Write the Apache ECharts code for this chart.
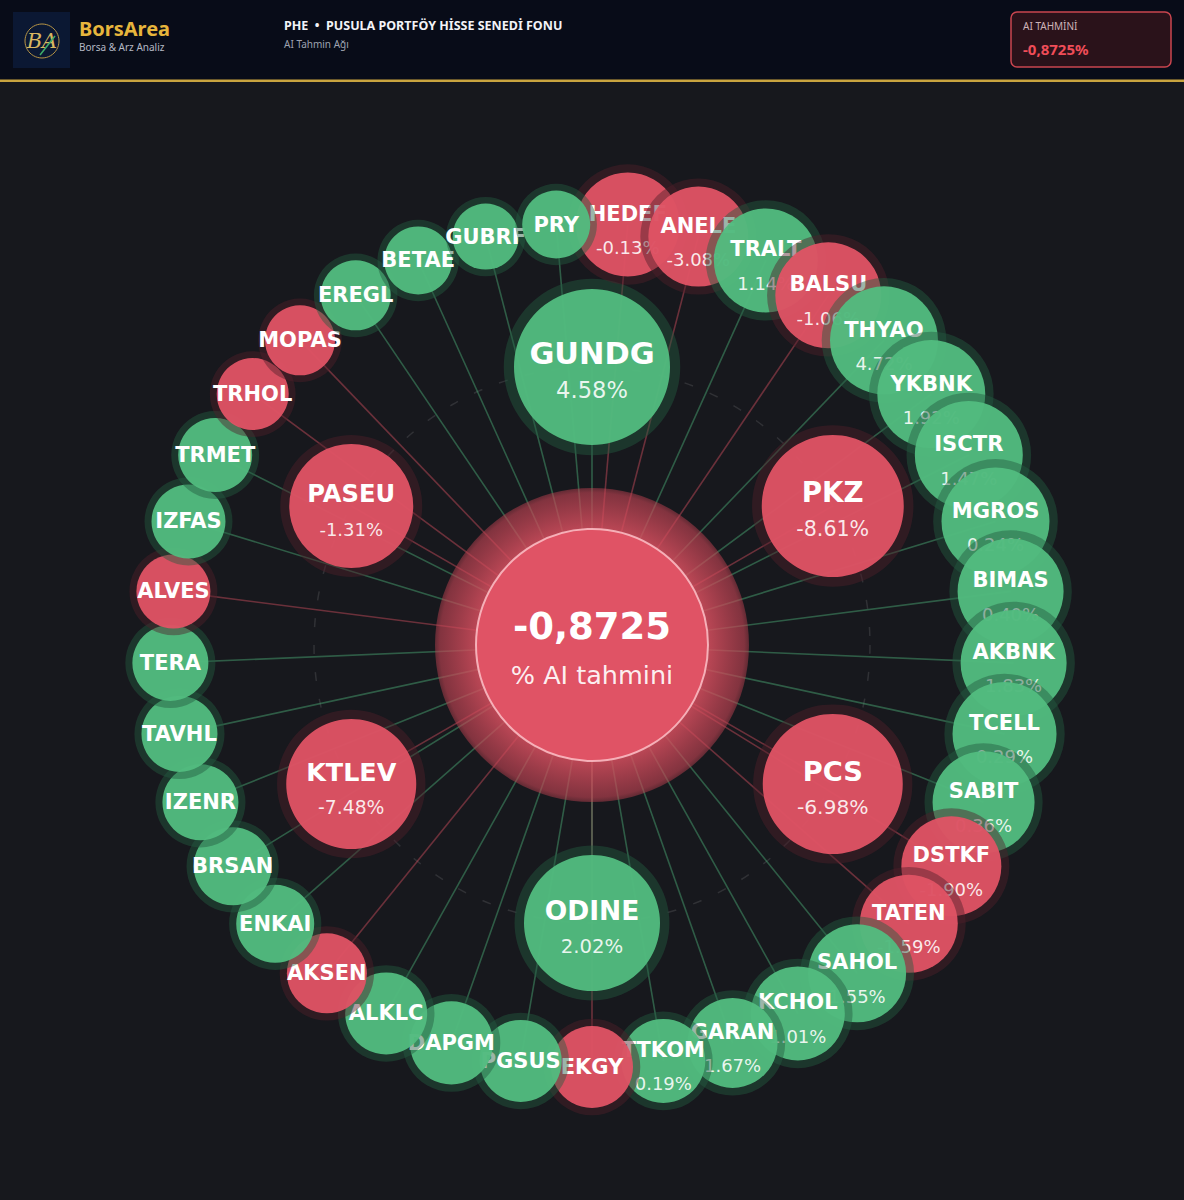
<!DOCTYPE html>
<html>
<head>
<meta charset="utf-8">
<style>
  html, body { margin: 0; padding: 0; background: #17181d; }
  #chart { width: 1184px; height: 1200px; }
</style>
<script src="https://cdn.jsdelivr.net/npm/echarts@6/dist/echarts.min.js"></script>
</head>
<body>
<div id="chart"></div>
<script>
// ---------------- DATA ----------------
const fundCode = 'PHE';
const fundName = 'PUSULA PORTFÖY HİSSE SENEDİ FONU';
const fundForecast = -0.8725;

// inner ring (largest holdings)
const innerNames   = ['GUNDG', 'PKZ', 'PCS', 'ODINE', 'KTLEV', 'PASEU'];
const innerChanges = [4.58, -8.61, -6.98, 2.02, -7.48, -1.31];
const innerWeights = [12.0, 10.25, 10.0, 9.5, 8.75, 8.0];

// outer ring, clockwise from the top
const outerNames = ['HEDEF','ANELE','TRALT','BALSU','THYAO','YKBNK','ISCTR','MGROS','BIMAS','AKBNK',
  'TCELL','SABIT','DSTKF','TATEN','SAHOL','KCHOL','GARAN','TTKOM','EKGY','PGSUS','DAPGM','ALKLC',
  'AKSEN','ENKAI','BRSAN','IZENR','TAVHL','TERA','ALVES','IZFAS','TRMET','TRHOL','MOPAS','EREGL',
  'BETAE','GUBRF','PRY'];
const outerChanges = [-0.13,-3.08,1.14,-1.06,4.72,1.92,1.47,0.24,0.40,1.83,
  0.29,0.36,-1.90,-1.59,1.55,1.01,1.67,0.19,-0.85,0.62,1.25,0.48,
  -0.72,0.91,1.36,0.55,0.83,2.14,-1.47,0.66,1.05,-0.94,-2.31,0.77,
  0.42,1.18,0.35];
const outerWeights = [5.5,5.0,5.5,5.75,6.0,6.0,6.0,6.0,5.75,5.75,
  5.5,5.25,5.0,4.75,4.75,4.25,3.75,3.0,2.75,2.75,2.9,2.75,
  2.5,2.25,2.25,2.0,2.0,2.0,1.75,1.75,1.75,1.5,1.25,1.25,
  1.0,0.75,1.0];

// ---------------- STYLE ----------------
const GREEN = '#52bd80';
const RED = '#e05365';
const GREEN_HALO = 'rgba(35,90,65,0.45)';
const RED_HALO = 'rgba(80,30,42,0.45)';
const GREEN_LINK = 'rgba(82,189,128,0.42)';
const RED_LINK = 'rgba(224,83,101,0.42)';
const NODE_FONT = '"DejaVu Sans", sans-serif';
const UI_FONT = '"Noto Sans", sans-serif';
const CX = 592, CY = 645;

function radiusOf(w) { return 30 + 4 * w; }
function fmtPct(v) { return v.toFixed(2) + '%'; }

function nodeRenderer(names, changes, weights) {
  return function (params, api) {
    const i = params.dataIndex;
    const p = api.coord([api.value(0), api.value(1)]);
    const r = radiusOf(weights[i]);
    const up = changes[i] >= 0;
    const nameF = Math.max(21, 0.39 * r);
    const pctF = Math.max(18, 0.29 * r);
    const showPct = weights[i] >= 3;
    const nameDy = showPct ? -(11 + (nameF - 21) * 0.3) : 0;
    const children = [
      { type: 'circle', z2: i * 4, shape: { cx: p[0], cy: p[1], r: r + 4 + 0.08 * r },
        style: { fill: up ? GREEN_HALO : RED_HALO } },
      { type: 'circle', z2: i * 4 + 1, shape: { cx: p[0], cy: p[1], r: r },
        style: { fill: up ? GREEN : RED, opacity: 0.95 } },
      { type: 'text', z2: i * 4 + 2,
        style: { text: names[i], x: p[0], y: p[1] + nameDy, fill: '#ffffff',
          font: 'bold ' + nameF.toFixed(1) + 'px ' + NODE_FONT,
          textAlign: 'center', textVerticalAlign: 'middle' } }
    ];
    if (showPct) {
      children.push({ type: 'text', z2: i * 4 + 3,
        style: { text: fmtPct(changes[i]), x: p[0], y: p[1] + 23, fill: 'rgba(255,255,255,0.88)',
          font: pctF.toFixed(1) + 'px ' + NODE_FONT,
          textAlign: 'center', textVerticalAlign: 'middle' } });
    }
    return { type: 'group', children: children };
  };
}

function linkRenderer(changes) {
  return function (params, api) {
    const i = params.dataIndex;
    const a = api.coord([0, api.value(1)]);
    const b = api.coord([api.value(0), api.value(1)]);
    return { type: 'line', shape: { x1: a[0], y1: a[1], x2: b[0], y2: b[1] },
      style: { stroke: changes[i] >= 0 ? GREEN_LINK : RED_LINK, lineWidth: 1.6 } };
  };
}

const outerData = outerNames.map((n, i) => [1, i]);
const innerData = innerNames.map((n, i) => [1, i]);

const hiddenAxis = { axisLine: { show: false }, axisTick: { show: false },
  axisLabel: { show: false }, splitLine: { show: false } };

const fcText = fundForecast.toFixed(4).replace('.', ',');

const option = {
  backgroundColor: '#17181d',
  animation: false,
  polar: [
    { center: [CX, CY], radius: 422 },
    { center: [CX, CY], radius: 278 }
  ],
  angleAxis: [
    Object.assign({ polarIndex: 0, type: 'category', data: outerNames, startAngle: 90, clockwise: true, boundaryGap: true }, hiddenAxis),
    Object.assign({ polarIndex: 1, type: 'category', data: innerNames, startAngle: 120, clockwise: true, boundaryGap: true }, hiddenAxis,
      { axisLine: { show: true, lineStyle: { color: 'rgba(255,255,255,0.11)', width: 1.5, type: [9, 18] } } })
  ],
  radiusAxis: [
    Object.assign({ polarIndex: 0, type: 'value', min: 0, max: 1 }, hiddenAxis),
    Object.assign({ polarIndex: 1, type: 'value', min: 0, max: 1 }, hiddenAxis)
  ],
  graphic: [
    // header
    { type: 'rect', left: 0, top: 0, shape: { width: 1184, height: 80 }, style: { fill: '#080c18' }, z: 0 },
    { type: 'rect', left: 0, top: 79.5, shape: { width: 1184, height: 2.5 }, style: { fill: '#c9a43f' }, z: 0 },
    { type: 'rect', left: 13, top: 12, shape: { width: 57, height: 56 }, style: { fill: '#0b1833' }, z: 1 },
    { type: 'circle', shape: { cx: 42, cy: 41, r: 17 }, style: { fill: 'none', stroke: '#b89545', lineWidth: 1 }, z: 2 },
    { type: 'text', z: 3, style: { text: 'BA', x: 42, y: 41, fill: '#d8b661', font: 'italic 21px "DejaVu Serif", serif', textAlign: 'center', textVerticalAlign: 'middle' } },
    { type: 'line', z: 3, shape: { x1: 40, y1: 55, x2: 55, y2: 36 }, style: { stroke: '#3fae6a', lineWidth: 1.5 } },
    { type: 'text', z: 3, style: { text: 'BorsArea', x: 79, y: 28, fill: '#e7b63c', font: 'bold 20px ' + UI_FONT, textAlign: 'left', textVerticalAlign: 'middle' } },
    { type: 'text', z: 3, style: { text: 'Borsa & Arz Analiz', x: 79, y: 47, fill: '#b4b8c4', font: '10px ' + UI_FONT, textAlign: 'left', textVerticalAlign: 'middle' } },
    { type: 'text', z: 3, style: { text: fundCode + '  •  ' + fundName, x: 284, y: 25, fill: '#f2f3f7', font: 'bold 12.5px ' + UI_FONT, textAlign: 'left', textVerticalAlign: 'middle' } },
    { type: 'text', z: 3, style: { text: 'AI Tahmin Ağı', x: 284, y: 44, fill: '#9ea3b0', font: '10px ' + UI_FONT, textAlign: 'left', textVerticalAlign: 'middle' } },
    { type: 'rect', z: 3, shape: { x: 1011, y: 12, width: 160, height: 55, r: 6 }, style: { fill: '#2a121a', stroke: '#c9454f', lineWidth: 1.5 } },
    { type: 'text', z: 4, style: { text: 'AI TAHMİNİ', x: 1023, y: 26, fill: '#cdb3b7', font: '10px ' + UI_FONT, textAlign: 'left', textVerticalAlign: 'middle' } },
    { type: 'text', z: 4, style: { text: fcText + '%', x: 1023, y: 49, fill: '#ef4d58', font: 'bold 15px ' + UI_FONT, textAlign: 'left', textVerticalAlign: 'middle' } }
  ],
  series: [
    { type: 'custom', name: 'outerLinks', coordinateSystem: 'polar', polarIndex: 0, z: 2,
      data: outerData, renderItem: linkRenderer(outerChanges), silent: true },
    { type: 'custom', name: 'innerLinks', coordinateSystem: 'polar', polarIndex: 1, z: 2,
      data: innerData, renderItem: linkRenderer(innerChanges), silent: true },
    { type: 'custom', name: 'center', coordinateSystem: 'polar', polarIndex: 0, z: 3, silent: true,
      data: [[0, 0]],
      renderItem: function (params, api) {
        const p = api.coord([0, 0]);
        const col = fundForecast >= 0 ? GREEN : RED;
        return { type: 'group', children: [
          { type: 'circle', z2: 0, shape: { cx: p[0], cy: p[1], r: 157 },
            style: { fill: { type: 'radial', x: 0.5, y: 0.5, r: 0.5, colorStops: [
              { offset: 0, color: 'rgba(225,85,100,0.9)' },
              { offset: 0.74, color: 'rgba(218,80,96,0.84)' },
              { offset: 0.97, color: 'rgba(196,68,84,0.62)' },
              { offset: 1, color: 'rgba(190,65,80,0.45)' } ] } } },
          { type: 'circle', z2: 1, shape: { cx: p[0], cy: p[1], r: 116 },
            style: { fill: col, stroke: 'rgba(255,200,206,0.8)', lineWidth: 2 } },
          { type: 'text', z2: 2, style: { text: fcText, x: p[0], y: p[1] - 19, fill: '#ffffff',
            font: 'bold 37px ' + NODE_FONT, textAlign: 'center', textVerticalAlign: 'middle' } },
          { type: 'text', z2: 2, style: { text: '% AI tahmini', x: p[0], y: p[1] + 30, fill: 'rgba(255,255,255,0.92)',
            font: '25.5px ' + NODE_FONT, textAlign: 'center', textVerticalAlign: 'middle' } }
        ] };
      } },
    { type: 'custom', name: 'innerNodes', coordinateSystem: 'polar', polarIndex: 1, z: 5, silent: true,
      data: innerData, renderItem: nodeRenderer(innerNames, innerChanges, innerWeights) },
    { type: 'custom', name: 'outerNodes', coordinateSystem: 'polar', polarIndex: 0, z: 6, silent: true,
      data: outerData, renderItem: nodeRenderer(outerNames, outerChanges, outerWeights) }
  ]
};

const chart = echarts.init(document.getElementById('chart'), null, { renderer: 'svg', width: 1184, height: 1200 });
chart.setOption(option);
</script>
</body>
</html>
